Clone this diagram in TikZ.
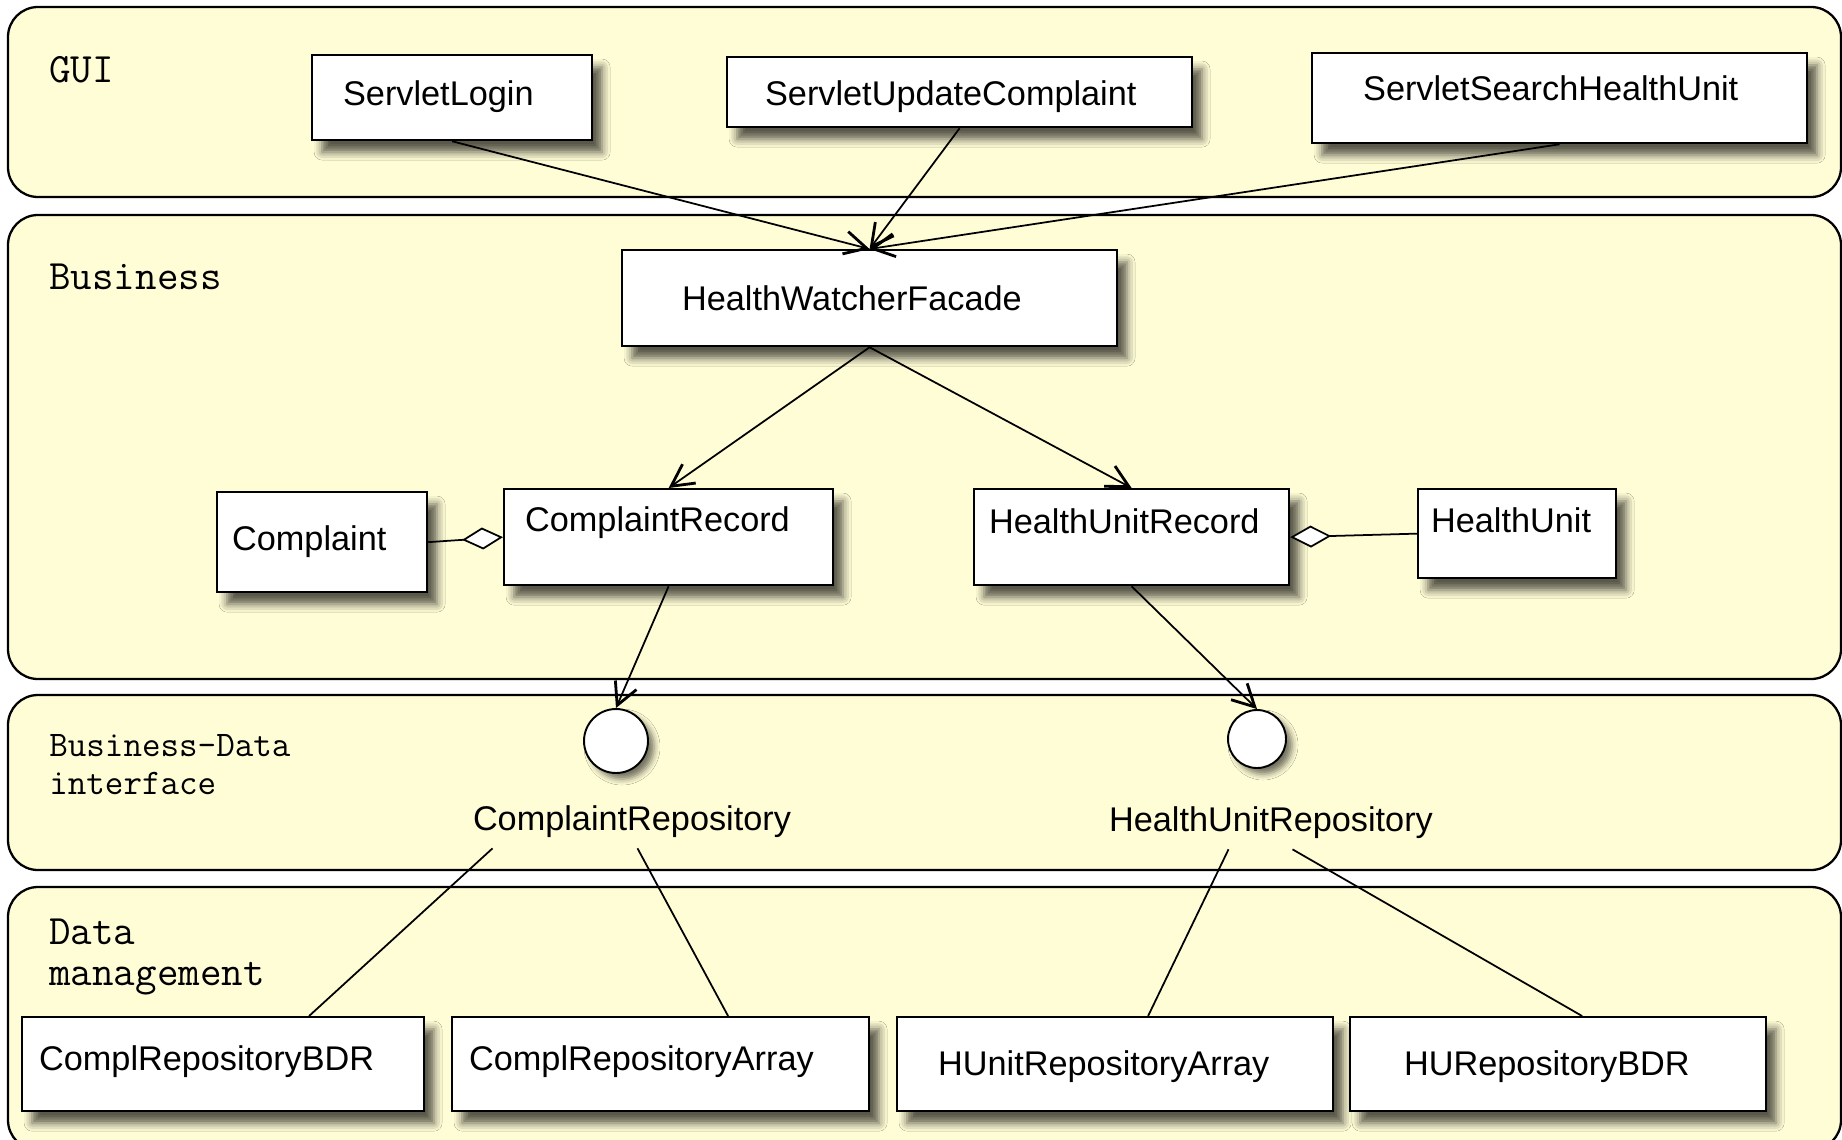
\documentclass[tikz,border=0pt]{standalone}
\usepackage{fontspec}
\newfontfamily\clsfont{Liberation Sans}
\usetikzlibrary{arrows.meta, shadows.blur, positioning}
\definecolor{layerfill}{RGB}{255,253,214}

\begin{document}
\begin{tikzpicture}[x=0.02cm, y=-0.02cm,
	layer/.style={draw=black, line width=1.3pt, fill=layerfill, rounded corners=0.6cm},
	layername/.style={font=\ttfamily\fontsize{23.8}{23.3}\selectfont, anchor=base west, align=left, inner sep=0pt},
	classbox/.style n args={4}{draw=black, line width=1.3pt, fill=white,
		blur shadow={shadow xshift=2mm, shadow yshift=-2.4mm, shadow blur radius=1.6mm, shadow opacity=65},
		font=\clsfont\fontsize{19.5}{22}\selectfont, anchor=north west, align=left, inner ysep=0pt,
		text width=#1cm, inner xsep=#2cm, text height=#3cm, text depth=#4cm},
	iface/.style={circle, draw=black, line width=1.1pt, fill=white, inner sep=0pt,
		blur shadow={shadow xshift=1.2mm, shadow yshift=-1.2mm, shadow blur radius=1.2mm, shadow opacity=55}},
	ifacename/.style={font=\clsfont\fontsize{19.5}{22}\selectfont, anchor=base, inner sep=0pt, text depth=0.36cm},
	uses/.style={line width=1pt, -{Straight Barb[length=4.4mm, width=4.6mm, line width=1.6pt]}},
	agg/.style={line width=1pt, -{Diamond[fill=white, length=8.2mm, width=4.4mm, line width=1pt]}},
	link/.style={line width=1pt}]

	\useasboundingbox (0,0) rectangle (1842,1139);

	% layers
	\draw[layer] (8,7) rectangle (1841,197);
	\draw[layer] (8,215) rectangle (1841,679);
	\draw[layer] (8,695) rectangle (1841,870);
	\draw[layer] (8,887) rectangle (1841,1150);

	\node[layername] (guiL) at (49,82) {GUI};
	\node[layername] (busL) at (49,289) {Business};
	\node[layername, font=\ttfamily\fontsize{20.5}{21.6}\selectfont] (bdL) at (49,794) {Business-Data\\interface};
	\node[layername] (dataL) at (49,985) {Data\\management};

	% GUI
	\node[classbox={4.36}{0.62}{1.0}{0.70}] (login) at (311,54) {ServletLogin};
	\node[classbox={7.78}{0.76}{0.96}{0.44}] (update) at (726,56) {ServletUpdateComplaint};
	\node[classbox={7.86}{1.02}{0.94}{0.86}] (search) at (1311,52) {ServletSearchHealthUnit};

	% Business
	\node[classbox={7.5}{1.2}{1.2}{0.72}] (facade) at (621,249) {HealthWatcherFacade};
	\node[classbox={3.6}{0.3}{1.16}{0.84}] (complaint) at (216,491) {Complaint};
	\node[classbox={5.74}{0.42}{0.84}{1.08}] (crecord) at (503,488) {ComplaintRecord};
	\node[classbox={5.7}{0.3}{0.88}{1.04}] (hurecord) at (973,488) {HealthUnitRecord};
	\node[classbox={3.44}{0.26}{0.86}{0.92}] (healthunit) at (1417,488) {HealthUnit};

	% Business-Data interface
	\node[iface, minimum size=1.28cm] (crepo) at (616,741) {};
	\node[iface, minimum size=1.16cm] (hrepo) at (1257,739) {};
	\node[ifacename] (crepoL) at (632,830) {ComplaintRepository};
	\node[ifacename] (hrepoL) at (1271,831) {HealthUnitRepository};

	% Data management
	\node[classbox={7.36}{0.34}{1.06}{0.82}] (cbdr) at (21,1016) {ComplRepositoryBDR};
	\node[classbox={7.66}{0.34}{1.06}{0.82}] (carray) at (451,1016) {ComplRepositoryArray};
	\node[classbox={7.08}{0.82}{1.16}{0.72}] (harray) at (896,1016) {HUnitRepositoryArray};
	\node[classbox={6.16}{1.08}{1.16}{0.72}] (hbdr) at (1349,1016) {HURepositoryBDR};

	% connectors
	\draw[uses] (login.south) -- (facade.north);
	\draw[uses] (update.south) -- (facade.north);
	\draw[uses] (search.south) -- (facade.north);
	\draw[uses] (facade.south) -- (crecord.north);
	\draw[uses] (facade.south) -- (hurecord.north);
	\draw[uses] (crecord.south) -- (crepo.north);
	\draw[uses] (hurecord.south) -- (hrepo.north);
	\draw[agg] (complaint.east) -- (crecord.west);
	\draw[agg] (healthunit.west) -- (hurecord.east);

	\draw[link] ([xshift=-2.79cm]crepoL.south) -- ([xshift=1.72cm]cbdr.north);
	\draw[link] ([xshift=0.11cm]crepoL.south) -- ([xshift=1.35cm]carray.north);
	\draw[link] ([xshift=-0.85cm]hrepoL.south) -- ([xshift=0.66cm]harray.north);
	\draw[link] ([xshift=0.43cm]hrepoL.south) -- ([xshift=0.48cm]hbdr.north);
\end{tikzpicture}
\end{document}
